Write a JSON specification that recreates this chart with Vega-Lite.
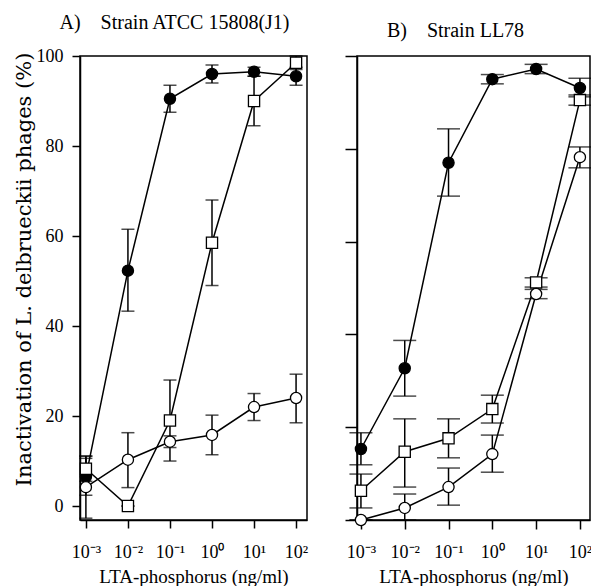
{
  "$schema": "https://vega.github.io/schema/vega-lite/v6.json",
  "background": "white",
  "padding": {"left": 12, "top": 12, "right": 2, "bottom": 0},
  "spacing": 34,
  "datasets": {
    "pts": [
      {"panel": "A", "conc": 0.001, "series": "filled", "value": 6.5, "lo": 2.4, "hi": 10.6},
      {"panel": "A", "conc": 0.01, "series": "filled", "value": 52.3, "lo": 43.3, "hi": 61.5},
      {"panel": "A", "conc": 0.1, "series": "filled", "value": 90.5, "lo": 87.5, "hi": 93.5},
      {"panel": "A", "conc": 1, "series": "filled", "value": 96, "lo": 94, "hi": 98},
      {"panel": "A", "conc": 10, "series": "filled", "value": 96.5, "lo": 95.5, "hi": 97.5},
      {"panel": "A", "conc": 100, "series": "filled", "value": 95.5, "lo": 93.5, "hi": 97.5},
      {"panel": "A", "conc": 0.001, "series": "square", "value": 8.3, "lo": 5.5, "hi": 11.1},
      {"panel": "A", "conc": 0.01, "series": "square", "value": 0, "lo": 0, "hi": 0},
      {"panel": "A", "conc": 0.1, "series": "square", "value": 19, "lo": 10, "hi": 28},
      {"panel": "A", "conc": 1, "series": "square", "value": 58.5, "lo": 49, "hi": 68},
      {"panel": "A", "conc": 10, "series": "square", "value": 90, "lo": 84.5, "hi": 95.5},
      {"panel": "A", "conc": 100, "series": "square", "value": 98.5, "lo": 97, "hi": 100},
      {"panel": "A", "conc": 0.001, "series": "open", "value": 4.2, "lo": -2.7, "hi": 11.1},
      {"panel": "A", "conc": 0.01, "series": "open", "value": 10.3, "lo": 4.1, "hi": 16.3},
      {"panel": "A", "conc": 0.1, "series": "open", "value": 14.3, "lo": 13, "hi": 15.6},
      {"panel": "A", "conc": 1, "series": "open", "value": 15.8, "lo": 11.4, "hi": 20.2},
      {"panel": "A", "conc": 10, "series": "open", "value": 22, "lo": 19, "hi": 25},
      {"panel": "A", "conc": 100, "series": "open", "value": 24, "lo": 18.5, "hi": 29.3},
      {"panel": "B", "conc": 0.001, "series": "filled", "value": 15.3, "lo": 11.9, "hi": 18.8},
      {"panel": "B", "conc": 0.01, "series": "filled", "value": 32.7, "lo": 26.7, "hi": 38.7},
      {"panel": "B", "conc": 0.1, "series": "filled", "value": 77, "lo": 69.8, "hi": 84.3},
      {"panel": "B", "conc": 1, "series": "filled", "value": 95, "lo": 94, "hi": 96},
      {"panel": "B", "conc": 10, "series": "filled", "value": 97.2, "lo": 96.2, "hi": 98.2},
      {"panel": "B", "conc": 100, "series": "filled", "value": 93.1, "lo": 91.2, "hi": 95.2},
      {"panel": "B", "conc": 0.001, "series": "square", "value": 6.3, "lo": 2.6, "hi": 9.9},
      {"panel": "B", "conc": 0.01, "series": "square", "value": 14.7, "lo": 7.1, "hi": 21.8},
      {"panel": "B", "conc": 0.1, "series": "square", "value": 17.6, "lo": 13.4, "hi": 21.8},
      {"panel": "B", "conc": 1, "series": "square", "value": 23.9, "lo": 20.9, "hi": 26.9},
      {"panel": "B", "conc": 10, "series": "square", "value": 51.2, "lo": 50.2, "hi": 52.2},
      {"panel": "B", "conc": 100, "series": "square", "value": 90.5, "lo": 89.4, "hi": 91.6},
      {"panel": "B", "conc": 0.001, "series": "open", "value": 0, "lo": 0, "hi": 0},
      {"panel": "B", "conc": 0.01, "series": "open", "value": 2.6, "lo": 0, "hi": 5.6},
      {"panel": "B", "conc": 0.1, "series": "open", "value": 7.1, "lo": 3.2, "hi": 11.2},
      {"panel": "B", "conc": 1, "series": "open", "value": 14.2, "lo": 10.3, "hi": 18.3},
      {"panel": "B", "conc": 10, "series": "open", "value": 48.7, "lo": 47.7, "hi": 49.7},
      {"panel": "B", "conc": 100, "series": "open", "value": 78.2, "lo": 75.9, "hi": 80.4}
    ]
  },
  "hconcat": [
    {
      "width": 227,
      "height": 464,
      "title": {"text": "A)\u00a0\u00a0\u00a0\u00a0Strain ATCC 15808(J1)", "dx": -19},
      "data": {"name": "pts"},
      "transform": [{"filter": "datum.panel == 'A'"}],
      "encoding": {
        "x": {
          "field": "conc", "type": "quantitative",
          "scale": {"type": "log", "domain": [0.000724, 182], "nice": false},
          "axis": {
            "values": [0.001, 0.01, 0.1, 1, 10, 100],
            "labelExpr": "datum.value < 0.005 ? '10⁻³' : datum.value < 0.05 ? '10⁻²' : datum.value < 0.5 ? '10⁻¹' : datum.value < 5 ? '10⁰' : datum.value < 50 ? '10¹' : '10²'",
            "title": "LTA-phosphorus (ng/ml)",
            "tickSize": 8, "labelPadding": 15, "titlePadding": 6
          }
        }
      },
      "layer": [
        {
          "mark": {"type": "errorbar", "ticks": {"size": 13}, "thickness": 1.5, "color": "black"},
          "encoding": {
            "y": {"field": "lo", "type": "quantitative", "scale": {"domain": [-3.1, 100], "nice": false}, "title": "Inactivation of L. delbrueckii phages (%)"},
            "y2": {"field": "hi"},
            "detail": {"field": "series"}
          }
        },
        {
          "mark": {"type": "line", "color": "black", "strokeWidth": 1.5},
          "encoding": {
            "y": {"field": "value", "type": "quantitative"},
            "detail": {"field": "series"}
          }
        },
        {
          "mark": {"type": "point", "filled": true, "stroke": "black", "strokeWidth": 1.3, "opacity": 1},
          "encoding": {
            "y": {
              "field": "value", "type": "quantitative",
              "axis": {
                "values": [0, 20, 40, 60, 80, 100],
                "tickSize": 8, "labelPadding": 9, "titlePadding": 2,
                "titleFont": "DejaVu Serif", "titleFontSize": 21, "titleY": 213
              }
            },
            "shape": {"field": "series", "type": "nominal", "scale": {"domain": ["filled", "square", "open"], "range": ["circle", "square", "circle"]}, "legend": null},
            "fill": {"field": "series", "type": "nominal", "scale": {"domain": ["filled", "square", "open"], "range": ["black", "white", "white"]}, "legend": null},
            "size": {"value": 125}
          }
        }
      ]
    },
    {
      "width": 233,
      "height": 464,
      "title": {"text": "B)\u00a0\u00a0\u00a0\u00a0Strain LL78", "dx": -18},
      "data": {"name": "pts"},
      "transform": [{"filter": "datum.panel == 'B'"}],
      "encoding": {
        "x": {
          "field": "conc", "type": "quantitative",
          "scale": {"type": "log", "domain": [0.000813, 170], "nice": false},
          "axis": {
            "values": [0.001, 0.01, 0.1, 1, 10, 100],
            "labelExpr": "datum.value < 0.005 ? '10⁻³' : datum.value < 0.05 ? '10⁻²' : datum.value < 0.5 ? '10⁻¹' : datum.value < 5 ? '10⁰' : datum.value < 50 ? '10¹' : '10²'",
            "title": "LTA-phosphorus (ng/ml)",
            "tickSize": 9, "labelPadding": 14, "titlePadding": 6
          }
        }
      },
      "layer": [
        {
          "mark": {"type": "errorbar", "ticks": {"size": 23}, "thickness": 1.5, "color": "black"},
          "encoding": {
            "y": {"field": "lo", "type": "quantitative", "scale": {"domain": [0, 100], "nice": false}, "title": null},
            "y2": {"field": "hi"},
            "detail": {"field": "series"}
          }
        },
        {
          "mark": {"type": "line", "color": "black", "strokeWidth": 1.5},
          "encoding": {
            "y": {"field": "value", "type": "quantitative"},
            "detail": {"field": "series"}
          }
        },
        {
          "mark": {"type": "point", "filled": true, "stroke": "black", "strokeWidth": 1.3, "opacity": 1},
          "encoding": {
            "y": {
              "field": "value", "type": "quantitative",
              "axis": {"values": [0, 20, 40, 60, 80, 100], "tickSize": 12, "labels": false, "title": null}
            },
            "shape": {"field": "series", "type": "nominal", "scale": {"domain": ["filled", "square", "open"], "range": ["circle", "square", "circle"]}, "legend": null},
            "fill": {"field": "series", "type": "nominal", "scale": {"domain": ["filled", "square", "open"], "range": ["black", "white", "white"]}, "legend": null},
            "size": {"value": 125}
          }
        }
      ]
    }
  ],
  "resolve": {"scale": {"x": "independent", "y": "independent", "shape": "shared", "fill": "shared"}},
  "config": {
    "font": "Liberation Serif",
    "view": {"stroke": "black", "strokeWidth": 1.5},
    "axis": {
      "grid": false,
      "domainColor": "black", "domainWidth": 1.5,
      "tickColor": "black", "tickWidth": 1.5,
      "labelColor": "black", "labelFont": "Liberation Serif", "labelFontSize": 18,
      "titleColor": "black", "titleFont": "Liberation Serif", "titleFontSize": 19, "titleFontWeight": "normal"
    },
    "title": {"font": "Liberation Serif", "fontSize": 20, "fontWeight": "normal", "color": "black", "offset": 14}
  }
}
